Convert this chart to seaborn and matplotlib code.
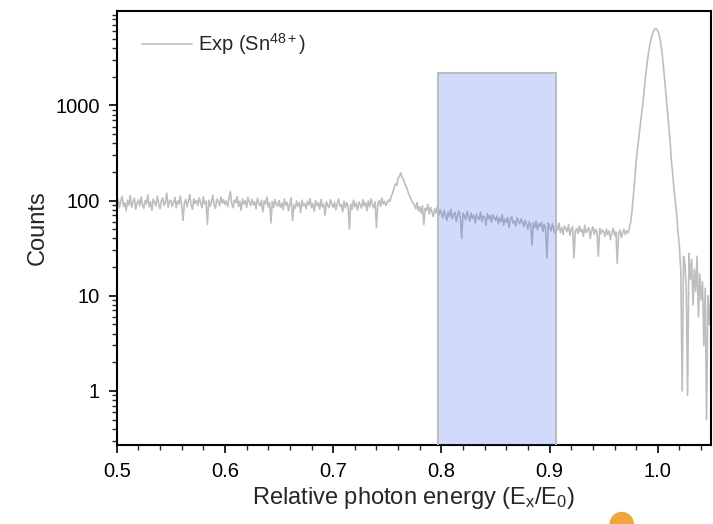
import numpy as np
import seaborn as sns
import matplotlib.pyplot as plt
from matplotlib import ticker
from matplotlib.patches import Rectangle, Ellipse

# Spectrum, one value every 0.00125 in E_x/E_0 from 0.50 to 1.05
energy = np.round(np.linspace(0.5, 1.05, 441), 5)
counts = [
    # 0.500
    92, 104, 84, 99, 110, 87, 95, 78, 101, 90, 113, 85, 97, 106, 81, 94, 102, 88, 109, 91,
    # 0.525
    83, 100, 92, 115, 86, 97, 79, 104, 95, 88, 111, 93, 82, 99, 107, 89, 96, 120, 85, 98,
    # 0.550
    101, 87, 96, 108, 84, 99, 92, 112, 88, 62, 94, 103, 86, 98, 116, 90, 81, 105, 93, 100,
    # 0.575
    89, 107, 95, 84, 110, 92, 98, 56, 101, 87, 96, 114, 90, 83, 104, 97, 88, 109, 94, 102,
    # 0.600
    91, 99, 86, 106, 125, 93, 84, 101, 95, 110, 87, 98, 79, 104, 92, 100, 85, 108, 96, 89,
    # 0.625
    103, 90, 97, 82, 106, 94, 88, 101, 76, 99, 92, 109, 86, 95, 58, 98, 84, 103, 91, 87,
    # 0.650
    100, 85, 94, 80, 104, 89, 96, 78, 92, 107, 62, 90, 83, 99, 87, 95, 75, 101, 88, 93,
    # 0.675
    82, 98, 90, 105, 84, 93, 77, 100, 88, 95, 81, 103, 86, 92, 70, 97, 89, 84, 102, 91,
    # 0.700
    85, 96, 80, 93, 104, 87, 91, 76, 99, 84, 95, 88, 50, 92, 81, 101, 86, 94, 79, 97,
    # 0.725
    90, 83, 102, 88, 95, 78, 99, 86, 104, 91, 84, 97, 52, 93, 100, 87, 106, 92, 98, 89,
    # 0.750 (satellite line)
    95, 102, 98, 112, 120, 135, 150, 145, 172, 180, 196, 175, 168, 150, 140, 128, 116, 108, 100, 94,
    # 0.775
    90, 82, 95, 78, 86, 74, 88, 56, 83, 79, 91, 72, 85, 76, 68, 82, 74, 87, 70, 80,
    # 0.800
    73, 66, 79, 70, 62, 76, 68, 81, 64, 72, 75, 60, 71, 78, 66, 40, 74, 69, 63, 77,
    # 0.825
    68, 61, 74, 65, 70, 58, 72, 66, 63, 76, 60, 69, 67, 55, 73, 64, 70, 59, 71, 65,
    # 0.850
    62, 69, 57, 66, 60, 71, 55, 64, 59, 67, 52, 63, 68, 58, 61, 54, 66, 60, 57, 64,
    # 0.875
    59, 53, 62, 56, 50, 60, 55, 34, 58, 52, 61, 49, 57, 54, 59, 47, 56, 51, 25, 58,
    # 0.900
    53, 48, 57, 50, 45, 55, 49, 58, 46, 52, 44, 54, 51, 47, 56, 43, 50, 53, 25, 48,
    # 0.925
    51, 45, 54, 47, 50, 42, 55, 46, 49, 52, 40, 48, 53, 44, 50, 47, 26, 51, 45, 49,
    # 0.950
    47, 42, 50, 44, 48, 39, 46, 51, 43, 47, 22, 45, 49, 41, 46, 50, 44, 48, 46, 52,
    # 0.975 (main line)
    60, 80, 115, 170, 265, 350, 460, 600, 800, 1080, 1500, 2050, 2750, 3500, 4300, 5000, 5650, 6100, 6400, 6350,
    # 1.000
    6050, 5500, 4700, 3700, 2650, 1900, 1300, 900, 620, 440, 265, 190, 130, 95, 70, 45, 32, 18, 1.0, 26,
    # 1.025
    22, 12, 0.9, 28, 15, 24, 8, 19, 11, 26, 6, 17, 9, 14, 3, 12, 0.5, 10, 5, 9,
    # 1.050
    4,
]

band_x = [0.797, 0.906]
band_top = 2180
series_label = "Exp (Sn$^{\\mathregular{48+}}$)"
x_label = "Relative photon energy (E$_\\mathregular{x}$/E$_\\mathregular{0}$)"

sns.set_style("ticks")
plt.rcParams["font.family"] = ["Liberation Sans", "DejaVu Sans"]
plt.rcParams["mathtext.fontset"] = "custom"
plt.rcParams["mathtext.rm"] = "Liberation Sans"
plt.rcParams["mathtext.it"] = "Liberation Sans:italic"

fig = plt.figure(figsize=(7.13, 5.24), dpi=100)
ax = fig.add_axes([0.1637, 0.1508, 0.8333, 0.828])

sns.lineplot(x=energy, y=counts, color="#BEBEBE", lw=1.2, estimator=None,
             label=series_label, ax=ax, zorder=2)
ax.set_yscale("log")

# shaded energy window
ax.add_patch(Rectangle((band_x[0], 1e-3), band_x[1] - band_x[0], band_top - 1e-3,
                       facecolor=(0.18, 0.37, 0.91, 0.22), edgecolor="#BDBDBD",
                       lw=1.5, zorder=3))

ax.set_xlim(0.5, 1.049)
ax.set_ylim(0.27, 9800)

ax.xaxis.set_major_locator(ticker.MultipleLocator(0.1))
ax.xaxis.set_minor_locator(ticker.MultipleLocator(0.02))
ax.xaxis.set_major_formatter(ticker.FormatStrFormatter("%.1f"))
ax.yaxis.set_major_locator(ticker.FixedLocator([1, 10, 100, 1000]))
ax.yaxis.set_minor_locator(ticker.LogLocator(base=10, subs=np.arange(2, 10)))
ax.yaxis.set_major_formatter(ticker.FuncFormatter(lambda v, _: f"{v:g}"))
ax.yaxis.set_minor_formatter(ticker.NullFormatter())

ax.tick_params(which="major", direction="out", length=6, width=1.2, pad=6,
               labelsize=14.5, top=False, right=False, colors="black")
ax.tick_params(which="minor", direction="out", length=3.5, width=1.0,
               top=False, right=False)
for s in ax.spines.values():
    s.set_linewidth(1.5)
    s.set_color("black")

ax.set_xlabel(x_label, fontsize=17, labelpad=3)
ax.set_ylabel("Counts", fontsize=17, labelpad=5)

ax.legend(loc="upper left", bbox_to_anchor=(0.0115, 0.995), frameon=False,
          fontsize=14.5, handlelength=2.5, handletextpad=0.3)

# orange dot from the neighbouring panel, cropped at the bottom edge
fig.add_artist(Ellipse((621.7 / 713, 0.0), 23 / 713, 23 / 524,
                       transform=fig.transFigure, color="#F0A63C"))

fig.savefig("out.png", dpi=100)
